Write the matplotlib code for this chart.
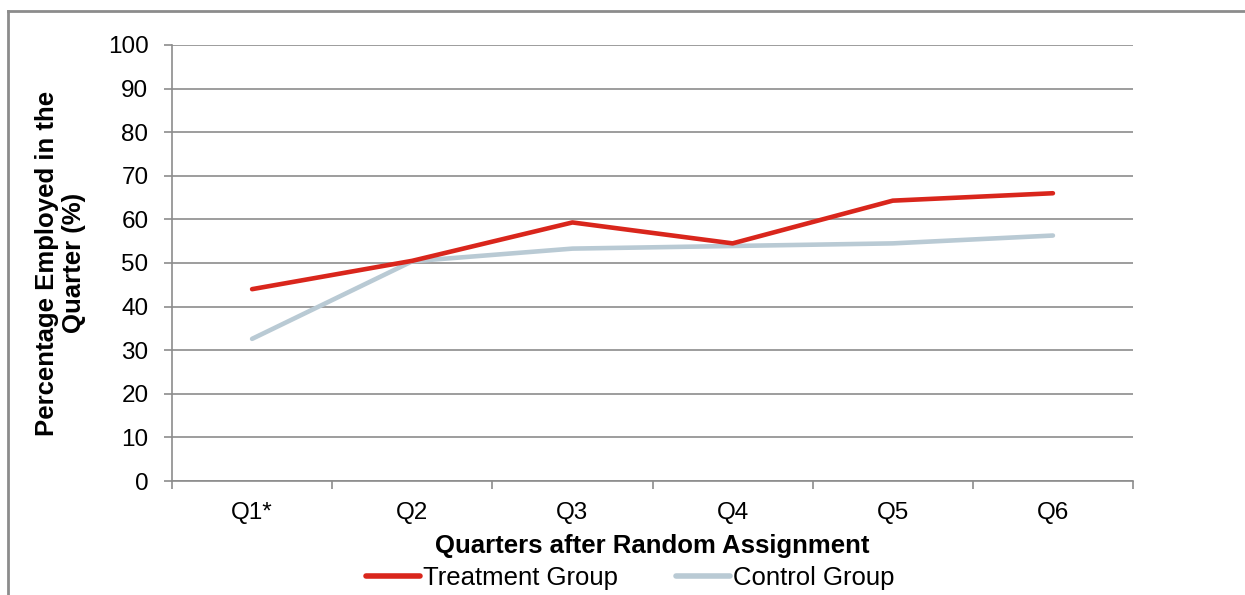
import matplotlib
matplotlib.use("Agg")
import matplotlib.pyplot as plt
from matplotlib.lines import Line2D

categories = ["Q1*", "Q2", "Q3", "Q4", "Q5", "Q6"]
treatment = [44.0, 50.5, 59.3, 54.5, 64.3, 66.0]
control = [32.6, 50.4, 53.3, 53.9, 54.5, 56.3]
y_ticks = [0, 10, 20, 30, 40, 50, 60, 70, 80, 90, 100]

plt.rcParams['font.family'] = ['Liberation Sans', 'DejaVu Sans']

W, H = 1245, 595
fig = plt.figure(figsize=(W / 100, H / 100), dpi=100)
fig.patch.set_facecolor("white")

ax = fig.add_axes([172 / W, (H - 481) / H, (1133 - 172) / W, (481 - 45) / H])

x = list(range(len(categories)))
red = "#D9261C"
gray = "#B9CAD4"
ax.plot(x, control, color=gray, lw=3.3, solid_capstyle="round", solid_joinstyle="round", label="Control Group", zorder=3)
ax.plot(x, treatment, color=red, lw=3.3, solid_capstyle="round", solid_joinstyle="round", label="Treatment Group", zorder=4)

ax.set_xlim(-0.5, len(categories) - 0.5)
ax.set_ylim(0, 100)
ax.set_yticks(y_ticks)
ax.set_xticks(x)
ax.set_xticklabels(categories)
ax.set_xticks([i - 0.5 for i in range(len(categories) + 1)], minor=True)

gridc = "#8C8C8C"
ax.grid(axis="y", color=gridc, lw=1.2)
ax.set_axisbelow(True)
for s in ["top", "right"]:
    ax.spines[s].set_visible(False)
ax.spines["left"].set_color(gridc)
ax.spines["left"].set_linewidth(1.2)
ax.spines["bottom"].set_color(gridc)
ax.spines["bottom"].set_linewidth(1.2)

ax.tick_params(axis="y", which="major", length=6, width=1.2, color=gridc, pad=11, labelsize=17.5, labelcolor="black")
ax.tick_params(axis="x", which="major", length=0, pad=15, labelsize=17.5, labelcolor="black")
ax.tick_params(axis="x", which="minor", length=6, width=1.2, color=gridc)

ax.set_xlabel("Quarters after Random Assignment", fontsize=18.5, fontweight="bold")
ax.xaxis.set_label_coords(0.5, -0.122)
ax.set_ylabel("Percentage Employed in the\nQuarter (%)", fontsize=18.5, fontweight="bold", linespacing=1.15)
ax.yaxis.set_label_coords(-0.090, 0.5)

handles = [Line2D([], [], color=red, lw=4, solid_capstyle="round"),
           Line2D([], [], color=gray, lw=4, solid_capstyle="round")]
fig.legend(handles, ["Treatment Group", "Control Group"], loc="center",
           bbox_to_anchor=(630 / W, 1 - 578 / H), ncol=2, frameon=False,
           fontsize=18.5, handlelength=2.1, handletextpad=0.12, columnspacing=2.25,
           borderpad=0.1)

# outer frame (top and left edges visible)
framec = "#8C8C8C"
fig.add_artist(Line2D([8 / W, 1.0], [1 - 11 / H, 1 - 11 / H], color=framec, lw=2, transform=fig.transFigure))
fig.add_artist(Line2D([8 / W, 8 / W], [0.0, 1 - 11 / H], color=framec, lw=2, transform=fig.transFigure))

fig.savefig("out.png", dpi=100, facecolor="white")
